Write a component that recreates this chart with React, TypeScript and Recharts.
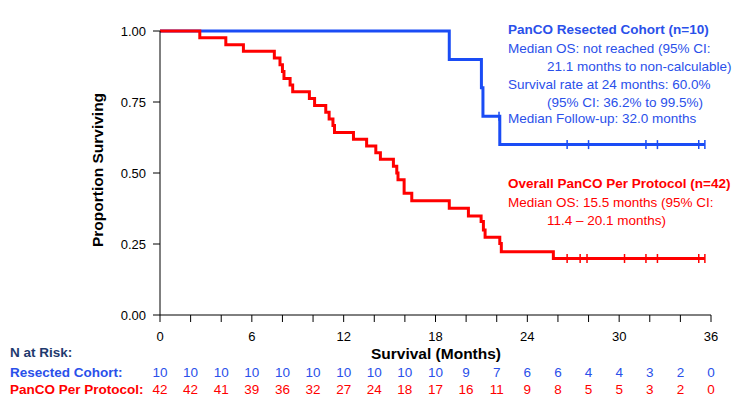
import { LineChart, Line, XAxis, YAxis } from 'recharts';

const BLUE = '#1a4cf5';
const BLUE_TEXT = '#2a50ea';
const RED = '#ff0000';
const FONT = '"Liberation Sans", Arial, sans-serif';

// Kaplan-Meier steps (months, survival after the drop)
const resectedTimes = [18.9, 21.0, 21.1, 22.2];
const resectedSurvival = [0.9, 0.8, 0.7, 0.6];
const resectedCensored = [22.15, 26.6, 28.0, 31.75, 32.5, 35.2, 35.6];

const protocolTimes = [
  2.6, 4.3, 5.45, 7.47, 7.84, 8.0, 8.1, 8.5, 8.67, 9.76, 10.1, 10.83, 11.05, 11.3, 11.4, 12.64,
  13.5, 14.1, 14.4, 15.25, 15.47, 15.55, 15.95, 16.45, 18.9, 20.15, 20.98, 21.13, 21.24, 22.2,
  22.3, 25.7,
];
const protocolSurvival = [
  0.976, 0.952, 0.929, 0.905, 0.881, 0.857, 0.833, 0.81, 0.786, 0.762, 0.738, 0.714, 0.69, 0.667,
  0.643, 0.619, 0.595, 0.571, 0.548, 0.524, 0.5, 0.476, 0.429, 0.402, 0.376, 0.349, 0.329, 0.299,
  0.274, 0.252, 0.223, 0.199,
];
const protocolCensored = [26.6, 27.45, 27.9, 30.35, 31.75, 32.5, 35.2, 35.6];

// number at risk, every 2 months
const riskMonths = [0, 2, 4, 6, 8, 10, 12, 14, 16, 18, 20, 22, 24, 26, 28, 30, 32, 34, 36];
const resectedAtRisk = [10, 10, 10, 10, 10, 10, 10, 10, 10, 10, 9, 7, 6, 6, 4, 4, 3, 2, 0];
const protocolAtRisk = [42, 42, 41, 39, 36, 32, 27, 24, 18, 17, 16, 11, 9, 8, 5, 5, 3, 2, 0];

const yTicks = [0, 0.25, 0.5, 0.75, 1];

type Pt = { t: number; s: number; c: boolean };

function buildCurve(times: number[], surv: number[], censored: number[]): Pt[] {
  const events = [
    ...times.map((t, i) => ({ t, s: surv[i] as number | null, c: false })),
    ...censored.map((t) => ({ t, s: null as number | null, c: true })),
  ].sort((a, b) => a.t - b.t);
  let cur = 1;
  const out: Pt[] = [{ t: 0, s: 1, c: false }];
  for (const e of events) {
    if (!e.c && e.s != null) cur = e.s;
    out.push({ t: e.t, s: cur, c: e.c });
  }
  return out;
}

const resectedData = buildCurve(resectedTimes, resectedSurvival, resectedCensored);
const protocolData = buildCurve(protocolTimes, protocolSurvival, protocolCensored);

function censorDot(color: string) {
  return (props: any) => {
    const { cx, cy, payload, index } = props;
    if (!payload?.c) return <g key={`n-${index}`} />;
    return <line key={`c-${index}`} x1={cx} x2={cx} y1={cy - 4.5} y2={cy + 4.5} stroke={color} strokeWidth={1.5} />;
  };
}

function MonthTick(props: any) {
  const { x, y, payload } = props;
  const v = payload.value as number;
  const i = riskMonths.indexOf(v);
  return (
    <g fontFamily={FONT}>
      {v % 6 === 0 && (
        <text x={x} y={y + 12.5} textAnchor="middle" dominantBaseline="central" fontSize={13} fill="#000">
          {v}
        </text>
      )}
      <text x={x} y={y + 48.5} textAnchor="middle" dominantBaseline="central" fontSize={13.5} fill={BLUE_TEXT}>
        {resectedAtRisk[i]}
      </text>
      <text x={x} y={y + 65.5} textAnchor="middle" dominantBaseline="central" fontSize={13.5} fill={RED}>
        {protocolAtRisk[i]}
      </text>
    </g>
  );
}

function Note({ x, y, color, bold, children }: { x: number; y: number; color: string; bold?: boolean; children: any }) {
  return (
    <div
      style={{
        position: 'absolute',
        left: x,
        top: y - 9,
        height: 18,
        lineHeight: '18px',
        fontSize: 13.5,
        fontWeight: bold ? 700 : 400,
        color,
        whiteSpace: 'nowrap',
      }}
    >
      {children}
    </div>
  );
}

const rowLabel = (top: number, color: string) => ({
  position: 'absolute' as const,
  left: 10,
  top: top - 9,
  lineHeight: '18px',
  fontSize: 13.5,
  fontWeight: 700,
  color,
  whiteSpace: 'nowrap' as const,
});

export default function App() {
  return (
    <div style={{ position: 'absolute', left: 0, top: 0, width: 744, height: 396, background: '#fff', fontFamily: FONT }}>
      <LineChart width={744} height={396} margin={{ top: 31, right: 33, bottom: 0, left: 0 }}>
        <XAxis
          type="number"
          dataKey="t"
          domain={[0, 36]}
          ticks={riskMonths}
          interval={0}
          height={81}
          tickSize={7}
          tickMargin={2}
          stroke="#000"
          tick={<MonthTick />}
          allowDuplicatedCategory={false}
        />
        <YAxis
          type="number"
          dataKey="s"
          domain={[0, 1]}
          ticks={yTicks}
          width={160}
          tickSize={7}
          tickMargin={7}
          stroke="#000"
          tick={{ fill: '#000', fontSize: 13, fontFamily: FONT }}
          tickFormatter={(v: number) => v.toFixed(2)}
        />
        <Line
          data={resectedData}
          dataKey="s"
          type="stepAfter"
          stroke={BLUE}
          strokeWidth={3}
          dot={censorDot(BLUE)}
          activeDot={false}
          isAnimationActive={false}
        />
        <Line
          data={protocolData}
          dataKey="s"
          type="stepAfter"
          stroke={RED}
          strokeWidth={3}
          dot={censorDot(RED)}
          activeDot={false}
          isAnimationActive={false}
        />
      </LineChart>

      <div
        style={{
          position: 'absolute',
          left: 98,
          top: 170,
          transform: 'translate(-50%, -50%) rotate(-90deg)',
          fontSize: 15.5,
          fontWeight: 700,
          whiteSpace: 'nowrap',
          color: '#000',
        }}
      >
        Proportion Surviving
      </div>
      <div
        style={{
          position: 'absolute',
          left: 436,
          top: 354,
          transform: 'translate(-50%, -50%)',
          fontSize: 15.5,
          fontWeight: 700,
          whiteSpace: 'nowrap',
          color: '#000',
        }}
      >
        Survival (Months)
      </div>

      <Note x={508} y={29.5} color={BLUE_TEXT} bold>PanCO Resected Cohort (n=10)</Note>
      <Note x={508} y={49.3} color={BLUE_TEXT}>Median OS: not reached (95% CI:</Note>
      <Note x={547} y={66.7} color={BLUE_TEXT}>21.1 months to non-calculable)</Note>
      <Note x={508} y={85} color={BLUE_TEXT}>Survival rate at 24 months: 60.0%</Note>
      <Note x={547} y={103.3} color={BLUE_TEXT}>(95% CI: 36.2% to 99.5%)</Note>
      <Note x={508} y={119.3} color={BLUE_TEXT}>Median Follow-up: 32.0 months</Note>

      <Note x={508} y={183.5} color={RED} bold>Overall PanCO Per Protocol (n=42)</Note>
      <Note x={508} y={203.3} color={RED}>Median OS: 15.5 months (95% CI:</Note>
      <Note x={547} y={220.5} color={RED}>11.4 – 20.1 months)</Note>

      <div style={rowLabel(353, '#1f3a6e')}>N at Risk:</div>
      <div style={rowLabel(372.5, BLUE_TEXT)}>Resected Cohort:</div>
      <div style={rowLabel(389.5, RED)}>PanCO Per Protocol:</div>
    </div>
  );
}
